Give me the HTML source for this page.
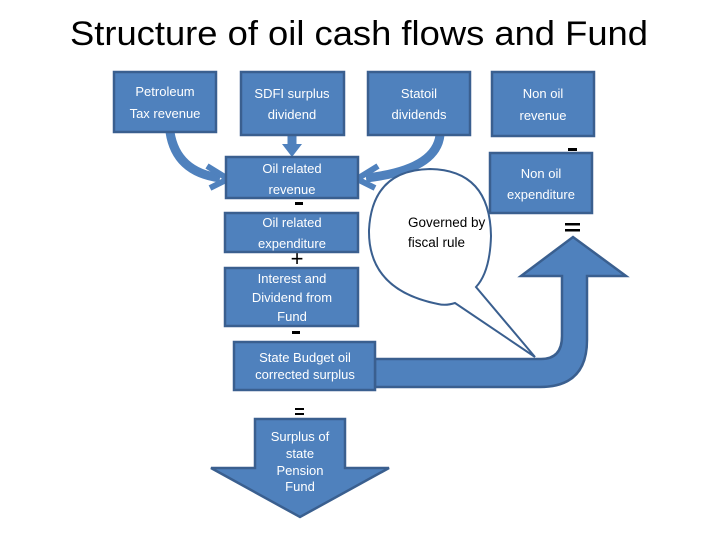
<!DOCTYPE html>
<html><head><meta charset="utf-8"><style>
body{margin:0;background:#fff;}
svg{display:block;font-family:"Liberation Sans",sans-serif;}
.b{fill:#4f81bd;stroke:#3a5f8f;stroke-width:2.5;}
.t{fill:#fff;font-size:13px;text-anchor:middle;}
.o{fill:#000;font-size:22px;text-anchor:middle;}
</style></head><body>
<svg width="720" height="540" viewBox="0 0 720 540">
<text x="70" y="45" font-size="34" fill="#000" textLength="578" lengthAdjust="spacingAndGlyphs">Structure of oil cash flows and Fund</text>

<!-- curved arrows -->
<path d="M170 132 Q176 172 220 178" fill="none" stroke="#4f81bd" stroke-width="9"/>
<path d="M207 166 L228 179 L210 188" fill="none" stroke="#4f81bd" stroke-width="6"/>
<path d="M440 135 Q436 170 366 178" fill="none" stroke="#4f81bd" stroke-width="9"/>
<path d="M378 166 L357 179 L375 188" fill="none" stroke="#4f81bd" stroke-width="6"/>
<path d="M292 135 L292 150" stroke="#4f81bd" stroke-width="9"/>
<path d="M282 144 L292 157 L302 144 Z" fill="#4f81bd"/>

<!-- big U arrow -->
<path class="b" d="M375 359 L541 359 Q562 359 562 336 L562 276 L521 276 L573 237 L626 276 L587 276 L587 340 Q587 387 540 387 L375 387 Z"/>

<!-- callout -->
<path d="M438 304 Q368 290 369 230 Q372 170 430 169 Q490 170 491 236 Q490 272 476 287 L535 357 L455 303 Q446 306 438 304 Z" fill="#fff" stroke="#3a5f8f" stroke-width="2"/>
<text x="408" y="227" font-size="13.5" fill="#000">Governed by</text>
<text x="408" y="247" font-size="13.5" fill="#000">fiscal rule</text>

<!-- boxes -->
<rect class="b" x="114" y="72" width="102" height="60"/>
<text class="t" x="165" y="96">Petroleum</text><text class="t" x="165" y="118">Tax revenue</text>
<rect class="b" x="241" y="72" width="103" height="63"/>
<text class="t" x="292" y="98">SDFI surplus</text><text class="t" x="292" y="119">dividend</text>
<rect class="b" x="368" y="72" width="102" height="63"/>
<text class="t" x="419" y="98">Statoil</text><text class="t" x="419" y="119">dividends</text>
<rect class="b" x="492" y="72" width="102" height="64"/>
<text class="t" x="543" y="98">Non oil</text><text class="t" x="543" y="120">revenue</text>

<rect class="b" x="226" y="157" width="132" height="41"/>
<text class="t" x="292" y="173">Oil related</text><text class="t" x="292" y="194">revenue</text>
<rect class="b" x="490" y="153" width="102" height="60"/>
<text class="t" x="541" y="178">Non oil</text><text class="t" x="541" y="199">expenditure</text>
<rect class="b" x="225" y="213" width="133" height="39"/>
<text class="t" x="292" y="227">Oil related</text><text class="t" x="292" y="248">expenditure</text>
<rect class="b" x="225" y="268" width="133" height="58"/>
<text class="t" x="292" y="283" font-size="12.5">Interest and</text><text class="t" x="292" y="302" font-size="12.5">Dividend from</text><text class="t" x="292" y="321" font-size="12.5">Fund</text>
<rect class="b" x="234" y="342" width="141" height="48"/>
<text class="t" x="305" y="362" font-size="11.5">State Budget oil</text><text class="t" x="305" y="379" font-size="11.5">corrected surplus</text>

<!-- down arrow -->
<path class="b" d="M255 419 L345 419 L345 468 L389 468 L300 517 L211 468 L255 468 Z"/>
<text class="t" x="300" y="441" font-size="11.5">Surplus of</text>
<text class="t" x="300" y="458" font-size="11.5">state</text>
<text class="t" x="300" y="475" font-size="11.5">Pension</text>
<text class="t" x="300" y="491" font-size="11.5">Fund</text>

<!-- operators -->
<rect x="295" y="202" width="8" height="3" fill="#000"/>
<text class="o" x="297" y="266">+</text>
<rect x="292" y="331" width="8" height="3" fill="#000"/>
<rect x="295" y="408" width="9" height="2" fill="#000"/><rect x="295" y="413" width="9" height="2" fill="#000"/>
<rect x="568" y="148" width="9" height="3" fill="#000"/>
<rect x="565" y="223" width="15" height="2.5" fill="#000"/><rect x="565" y="229" width="15" height="2.5" fill="#000"/>
</svg>
</body></html>
